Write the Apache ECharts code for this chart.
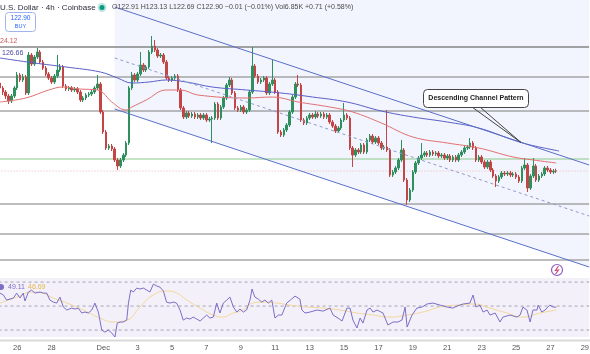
<!DOCTYPE html>
<html><head><meta charset="utf-8">
<script src="https://cdn.jsdelivr.net/npm/echarts/dist/echarts.min.js"></script>
<style>html,body{margin:0;padding:0;background:#fff;}#c{width:590px;height:354px;}</style>
</head><body><div id="c"></div>
<script>
// OHLC per 4h candle: [open, close, low, high], starting Nov 25 00:00
const candles = [
[131.7,131.2,131.0,132.0],[131.2,130.8,130.5,131.4],[130.8,130.4,130.1,131.0],[130.4,129.9,129.6,130.6],[129.9,130.4,129.7,130.6],[130.4,131.2,130.2,131.4],
[131.2,132.5,131.0,132.8],[132.5,132.0,131.8,132.7],[132.0,132.3,131.8,132.6],[132.3,130.7,130.5,132.5],[130.7,134.5,130.5,134.8],[134.5,133.6,133.4,134.7],
[133.6,134.3,133.4,134.5],[134.3,134.8,134.1,135.2],[134.8,133.8,133.6,135.0],[133.8,133.2,133.0,134.0],[133.2,132.6,132.4,133.4],[132.6,132.2,132.0,132.8],
[132.2,131.8,131.6,132.4],[131.8,132.4,131.6,132.6],[132.4,133.0,132.2,134.5],[133.0,133.3,132.8,133.6],[133.3,131.4,131.2,133.5],[131.4,131.1,130.9,131.6],
[131.1,131.2,130.9,131.4],[131.2,131.0,130.8,131.4],[131.0,131.1,130.8,131.3],[131.1,130.8,130.6,131.3],[130.8,130.0,129.8,131.0],[130.0,130.2,129.8,130.4],
[130.2,130.5,130.0,130.7],[130.5,130.6,130.3,130.8],[130.6,130.8,130.4,131.0],[130.8,131.2,130.6,131.4],[131.2,131.6,131.0,132.5],[131.6,128.8,128.6,131.8],
[128.8,126.8,126.6,129.0],[126.8,125.2,125.0,127.0],[125.2,125.4,125.0,125.6],[125.4,125.1,124.9,125.6],[125.1,124.0,123.8,125.3],[124.0,123.4,123.0,124.2],
[123.4,124.0,123.2,124.2],[124.0,124.5,123.8,124.7],[124.5,125.7,124.3,125.9],[125.7,131.2,125.5,131.4],[131.2,132.5,131.0,132.8],[132.5,132.0,131.8,132.7],
[132.0,132.6,131.8,132.8],[132.6,133.5,132.4,134.8],[133.5,133.0,132.8,133.7],[133.0,133.3,132.8,133.5],[133.3,134.8,133.1,135.0],[134.8,135.4,134.6,136.4],
[135.4,135.0,134.8,136.0],[135.0,134.4,134.2,135.2],[134.4,134.5,134.2,134.7],[134.5,133.8,133.6,134.7],[133.8,132.2,132.0,134.0],[132.2,132.0,131.8,132.4],
[132.0,132.2,131.8,132.4],[132.2,132.4,132.0,132.6],[132.4,131.0,130.8,132.6],[131.0,129.2,129.0,131.2],[129.2,128.3,128.1,129.4],[128.3,128.7,128.1,128.9],
[128.7,128.4,128.2,128.9],[128.4,128.6,128.2,128.8],[128.6,128.3,128.1,128.8],[128.3,128.5,128.1,128.7],[128.5,128.2,128.0,128.7],[128.2,128.5,128.0,128.7],
[128.5,128.0,127.8,128.7],[128.0,128.1,127.8,128.3],[128.1,128.2,125.7,128.4],[128.2,129.6,128.0,129.8],[129.6,128.2,128.0,129.8],[128.2,129.3,128.0,129.5],
[129.3,130.2,129.1,130.4],[130.2,131.5,130.0,131.7],[131.5,132.0,131.3,132.3],[132.0,130.7,130.5,132.2],[130.7,129.2,129.0,130.9],[129.2,129.0,128.8,129.4],
[129.0,129.3,128.8,129.5],[129.3,128.8,128.6,129.5],[128.8,129.0,128.6,129.2],[129.0,130.8,128.8,131.0],[130.8,133.4,130.6,135.3],[133.4,132.4,132.2,133.6],
[132.4,131.8,131.6,132.6],[131.8,132.0,131.6,132.2],[132.0,132.2,131.8,132.4],[132.2,130.7,130.5,132.4],[130.7,131.6,130.5,131.8],[131.6,132.0,131.4,134.0],
[132.0,130.8,130.6,132.2],[130.8,126.8,126.6,131.0],[126.8,126.5,126.3,127.0],[126.5,127.0,126.3,127.2],[127.0,127.5,126.8,127.7],[127.5,128.8,127.3,129.0],
[128.8,130.3,128.6,130.5],[130.3,131.6,130.1,131.8],[131.6,131.5,131.3,132.5],[131.5,128.0,127.8,131.7],[128.0,127.7,127.5,128.2],[127.7,128.2,127.5,128.4],
[128.2,128.5,128.0,128.7],[128.5,128.3,128.1,128.7],[128.3,128.6,128.1,128.9],[128.6,128.4,128.2,128.8],[128.4,128.6,128.2,128.8],[128.6,128.3,128.1,128.8],
[128.3,128.5,128.1,128.7],[128.5,127.8,127.6,128.7],[127.8,127.4,127.2,128.0],[127.4,126.9,126.7,127.6],[126.9,127.2,126.7,127.4],[127.2,128.0,127.0,128.2],
[128.0,128.5,127.8,129.7],[128.5,128.2,128.0,128.7],[128.2,125.2,125.0,128.4],[125.2,124.5,123.3,125.4],[124.5,125.0,124.3,125.2],[125.0,124.8,124.6,125.2],
[124.8,125.5,124.6,125.7],[125.5,124.8,124.6,125.7],[124.8,126.0,124.6,126.2],[126.0,126.4,125.8,126.6],[126.4,125.8,125.6,126.6],[125.8,126.2,125.6,126.4],
[126.2,125.7,125.5,126.4],[125.7,125.2,125.0,125.9],[125.2,125.3,125.0,125.5],[125.3,125.0,124.8,129.0],[125.0,122.5,122.3,125.2],[122.5,122.8,122.3,123.0],
[122.8,123.2,122.6,123.4],[123.2,124.0,123.0,124.2],[124.0,125.0,123.8,126.0],[125.0,122.0,121.8,125.2],[122.0,120.0,119.5,122.2],[120.0,121.0,119.8,121.2],
[121.0,122.8,120.8,123.0],[122.8,123.7,122.6,123.9],[123.7,124.2,123.5,124.4],[124.2,124.5,124.0,125.7],[124.5,124.7,124.3,124.9],[124.7,124.5,124.3,124.9],
[124.5,124.8,124.3,125.0],[124.8,124.6,124.4,125.0],[124.6,124.7,124.4,124.9],[124.7,124.4,124.2,124.9],[124.4,124.5,124.2,124.7],[124.5,124.2,124.0,124.7],
[124.2,124.4,124.0,124.6],[124.4,124.0,123.8,124.6],[124.0,124.3,123.8,124.5],[124.3,124.0,123.8,124.5],[124.0,124.5,123.8,124.7],[124.5,124.8,124.3,125.0],
[124.8,125.2,124.6,125.4],[125.2,125.3,125.0,125.5],[125.3,125.7,125.1,126.2],[125.7,125.2,125.0,125.9],[125.2,124.0,123.8,125.4],[124.0,124.3,123.8,124.5],
[124.3,123.8,123.6,124.5],[123.8,123.3,123.1,124.0],[123.3,123.8,123.1,124.0],[123.8,123.0,122.8,124.0],[123.0,122.4,122.2,123.2],[122.4,121.9,121.3,122.6],
[121.9,122.3,121.7,122.5],[122.3,122.7,122.1,122.9],[122.7,122.6,122.4,122.9],[122.6,122.7,122.4,122.9],[122.7,122.5,122.3,122.9],[122.5,122.6,122.3,122.8],
[122.6,122.3,122.1,122.8],[122.3,121.9,121.7,122.5],[121.9,123.2,121.7,123.4],[123.2,123.5,123.0,124.2],[123.5,121.2,120.8,123.7],[121.2,122.4,121.0,122.6],
[122.4,123.4,122.2,124.2],[123.4,122.0,121.8,123.6],[122.0,122.4,121.8,122.6],[122.4,122.6,122.2,122.8],[122.6,123.2,122.4,123.4],[123.2,123.0,122.8,123.4],
[123.0,122.8,122.6,123.2],[122.8,122.9,122.6,123.1],[122.91,122.90,122.69,123.13]
];
// moving averages (candle index, value)
const maRedIdx = [0,9,17,22,28,34,36,39,44,46,51,58,63,69,86,95,104,115,123,133,144,156,167,179,186,194];
const maRed    = [129.8,130.2,131.0,131.3,131.1,131.0,130.7,129.8,129.0,129.3,130.0,131.0,131.0,130.5,130.2,130.3,129.8,129.3,128.8,127.7,126.3,125.7,125.2,124.3,124.0,123.7];
const maBlueIdx = [0,12,23,35,41,46,52,58,65,74,86,98,109,121,133,144,156,167,179,185,195];
const maBlue    = [134.2,133.7,133.3,132.8,132.2,131.7,131.8,132.0,131.8,131.3,131.0,130.7,130.3,129.8,128.9,128.3,127.8,127.2,126.0,125.5,124.9];
// RSI (candle index, value)
const rsiIdx = [0,1.2,2.3,4.7,5.8,7,8.1,8.7,9.9,11,12.2,14,15.1,16.3,17.4,18.6,19.8,20.9,22.1,23.3,25,26.2,27.3,28.5,29.6,30.8,32,33.1,34.3,35.5,36.6,37.8,39,40.1,40.9,41.9,43,44.2,44.8,45.6,46.5,47.7,48.8,50,51.2,52.3,53.5,54.7,55.8,57,58.1,59.3,60.5,61.6,62.8,63.9,65.1,66.3,67.4,68.6,69.8,70.9,72.1,73.2,74.4,75.6,76.7,77.9,79.1,80.2,81.4,82.6,83.7,84.9,86,87.2,87.9,88.9,90.1,91.3,92.4,93.6,94.8,95.9,97.1,98.3,100,101.7,102.9,104.6,105.3,106.4,108.1,110.6,112.7,115.1,116.2,117.9,119.3,121,122.1,123.1,124.5,125.6,126.6,128,129.1,130.1,131.5,133.6,135.3,137.1,138.8,140.2,141.3,142,143.7,145.4,147.2,148.9,151,153.5,155.9,158,159.4,161.5,163.9,165,166,167.4,168.5,169.9,170.9,172.7,174.4,175.4,177.9,180.3,181.4,182.4,183.8,184.9,185.9,187.3,187.7,189,190.1,191.1,191.8,192.9,194];
const rsiVal = [60.8,59.2,55,56.7,60.8,56.7,60.8,54.2,61.7,63.3,60.8,61.7,60.8,60.8,55,53.3,52.5,57.5,49.2,46.7,48.3,47.5,48.3,44.2,45,44.2,46.7,52.5,45,30,28.3,30,27.5,24.2,35.8,36.7,36.7,38.3,52.5,63.3,61.7,65,64.2,65,63.3,61.7,68.3,66.7,65.8,62.5,53.3,52.5,53.3,52.5,46.7,38.3,40,39.2,40.8,39.2,37.5,40,42.5,40,40.8,52.5,44.2,52.5,55,57.5,49.2,45,47.5,45,46.7,55,64.2,57.5,55.8,53.3,55,52.5,55,40,42.5,42.5,52.5,55.8,58.3,55.8,46.7,44.2,45,46.7,45.8,48.3,42.5,40,37.5,48.3,48.3,38.3,31.7,40,35.8,46.7,48.3,45,46.7,44.2,34.2,36.7,36.7,38.3,49.2,32.5,42.5,48.3,49.2,51.7,52.5,50.8,49.2,48.3,50,51.7,52.5,59.2,49.2,50.8,45,46.7,42.5,44.2,36.7,40.8,42.5,40.8,42.5,49.2,46.7,36.7,46.7,46.7,50.8,45,46.7,49.2,50.8,49.2,49.11];
const rsiMaIdx = [0,5.9,11.5,15,18.5,23.4,29,34.9,39.4,44.3,48.8,53.4,58.2,61.7,65.2,69.8,74.3,77.8,81.3,84.8,88.2,91.7,96.6,101.2,107.1,112.7,118.6,124.5,130.1,136,142,147.5,153.5,159.4,165,170.9,176.8,182.4,188.4,194];
const rsiMaVal = [52.5,57.5,61.7,60.8,56.7,52.5,46.7,40,36.7,38.3,49.2,59.2,62.5,60.8,55,48.3,42.5,40.8,44.2,46.7,52.5,53.3,52.5,50.8,49.2,48.3,46.7,44.2,42.5,40.8,42.5,45,49.2,50.8,51.7,48.3,44.2,40.8,44.2,46.69];
const rsiBands = [70, 50, 30];
// horizontal levels and drawings
const levels = [135.3, 132.3, 128.9, 119.6, 116.6, 114.0];
const greenLevel = 124.1;
const lastPrice = 122.90;
const channelIdx = [40, 205.5];
const channelUpper = [139.3, 123.5];
const channelLower = [129.1, 113.3];
// time axis
const tickDays = ['11-26','11-28','12-1','12-3','12-5','12-7','12-9','12-11','12-13','12-15','12-17','12-19','12-21','12-23','12-25','12-27','12-29'];
const tickLabels = ['26','28','Dec','3','5','7','9','11','13','15','17','19','21','23','25','27','29'];
const headerTitle = 'U.S. Dollar · 4h · Coinbase';
const headerValues = 'O122.91 H123.13 L122.69 C122.90 −0.01 (−0.01%) Vol6.85K +0.71 (+0.58%)';

const N = 206;
const categories = [];
(function(){ const ml={11:30,12:31}; let m=11,d=25,h=0;
  for(let k=0;k<N;k++){ categories.push(m+'-'+d+' '+h); h+=4; if(h===24){h=0;d++; if(d>ml[m]){d=1;m++;}} } })();

const chart = echarts.init(document.getElementById('c'), null, {renderer:'canvas'});
const slot = 2.867;
const gridLeft = -slot/2, gridW = N*slot;
const FONT = '"Liberation Sans", Arial, sans-serif';
const pair = (ix, vals) => ix.map((x,k)=>[x, vals[k]]);
const hline = (v, grid, style, z) => ({type:'line', xAxisIndex: grid===0?1:3, yAxisIndex: grid, data:[[-0.5,v],[205.5,v]], symbol:'none', silent:true, lineStyle: style, z: z||1, animation:false});

const series = [];
series.push({type:'line', xAxisIndex:1, yAxisIndex:0, data: pair(channelIdx, channelLower), symbol:'none', silent:true,
  lineStyle:{width:0}, areaStyle:{origin:'end', color:'rgba(66,110,230,0.10)'}, z:0, animation:false});
levels.forEach((v,k)=> series.push(hline(v,0,{color: k===0?'#858585':'#7d7d7d', width: k===0?1.5:1},1)));
series.push(hline(greenLevel,0,{color:'#8cc98c', width:1},1));
series.push(hline(lastPrice,0,{color:'#e6b3b3', width:1, type:[1,2]},1));
series.push({type:'candlestick', xAxisIndex:0, yAxisIndex:0, data:candles, barWidth:2,
  itemStyle:{color:'#2f8f5f', color0:'#c44545', borderColor:'#2f8f5f', borderColor0:'#c44545', borderWidth:1}, z:3, animation:false});
series.push({type:'line', xAxisIndex:1, yAxisIndex:0, data: pair(maRedIdx, maRed), smooth:0.4, symbol:'none', silent:true, lineStyle:{color:'#e07070', width:1}, z:4, animation:false});
series.push({type:'line', xAxisIndex:1, yAxisIndex:0, data: pair(maBlueIdx, maBlue), smooth:0.4, symbol:'none', silent:true, lineStyle:{color:'#5b5fc7', width:1}, z:4, animation:false});
const mid = channelUpper.map((u,k)=> (u+channelLower[k])/2);
series.push({type:'line', xAxisIndex:1, yAxisIndex:0, data: pair(channelIdx, channelUpper), symbol:'none', silent:true, lineStyle:{color:'#5a6fc8', width:1}, z:5, animation:false});
series.push({type:'line', xAxisIndex:1, yAxisIndex:0, data: pair(channelIdx, channelLower), symbol:'none', silent:true, lineStyle:{color:'#5a6fc8', width:1}, z:5, animation:false});
series.push({type:'line', xAxisIndex:1, yAxisIndex:0, data: pair(channelIdx, mid), symbol:'none', silent:true, lineStyle:{color:'#8d9acb', width:1, type:[3,3]}, z:5, animation:false});
rsiBands.forEach(v=> series.push(hline(v,1,{color:'#a3a3b3', width:1, type:[3,3]},1)));
series.push({type:'line', xAxisIndex:3, yAxisIndex:1, data: pair(rsiMaIdx, rsiMaVal), smooth:0.5, symbol:'none', silent:true, lineStyle:{color:'#f2d79a', width:1}, z:2, animation:false});
series.push({type:'line', xAxisIndex:3, yAxisIndex:1, data: pair(rsiIdx, rsiVal), symbol:'none', silent:true, lineStyle:{color:'#7b6fc6', width:1}, z:3, animation:false});

const option = {
  animation:false,
  backgroundColor:'#ffffff',
  grid:[
    {left:gridLeft, width:gridW, top:0, height:270, outerBoundsMode:'none', containLabel:false},
    {left:gridLeft, width:gridW, top:278, height:59, show:true, backgroundColor:'rgba(126,87,194,0.09)', borderWidth:0, outerBoundsMode:'none', containLabel:false}
  ],
  xAxis:[
    {type:'category', gridIndex:0, data:categories, boundaryGap:true, show:false},
    {type:'value', gridIndex:0, min:-0.5, max:205.5, show:false},
    {type:'category', gridIndex:1, data:categories, boundaryGap:true,
      axisLine:{show:false}, axisTick:{show:false}, splitLine:{show:false},
      axisLabel:{show:true, margin:7, fontSize:7.5, color:'#555', fontFamily:FONT, hideOverlap:false,
        interval:(i,val)=>{const p=val.split(' '); return p[1]==='0' && tickDays.indexOf(p[0])>=0;},
        formatter:(val)=>{const i=tickDays.indexOf(val.split(' ')[0]); return i>=0?tickLabels[i]:'';}}},
    {type:'value', gridIndex:1, min:-0.5, max:205.5, show:false}
  ],
  yAxis:[
    {type:'value', gridIndex:0, min:113, max:140, show:false},
    {type:'value', gridIndex:1, min:24.2, max:73.4, show:false}
  ],
  series: series,
  graphic:[
    {type:'line', shape:{x1:0,y1:340.5,x2:590,y2:340.5}, style:{stroke:'#d9d9d9', lineWidth:2}, z:10},
    {type:'text', x:0, y:7.5, style:{text:headerTitle, font:'8px '+FONT, fill:'#2a2e39', verticalAlign:'middle'}, z:20},
    {type:'circle', shape:{cx:102, cy:7.5, r:4.5}, style:{fill:'rgba(8,153,129,0.25)'}, z:20},
    {type:'circle', shape:{cx:102, cy:7.5, r:2.5}, style:{fill:'#089981'}, z:21},
    {type:'text', x:112, y:7.5, style:{text:headerValues, font:'7px '+FONT, fill:'#4a4a4a', verticalAlign:'middle'}, z:20},
    {type:'rect', shape:{x:5.5,y:12.5,width:30,height:19,r:3}, style:{fill:'#fff', stroke:'#9fb3ee', lineWidth:1}, z:20},
    {type:'text', x:20.5, y:18.5, style:{text:'122.90', font:'6.5px '+FONT, fill:'#2962ff', align:'center', verticalAlign:'middle'}, z:21},
    {type:'text', x:20.5, y:26, style:{text:'BUY', font:'5.5px '+FONT, fill:'#2962ff', align:'center', verticalAlign:'middle'}, z:21},
    {type:'text', x:0, y:41.5, style:{text:'24.12', font:'7px '+FONT, fill:'#d05a5a', verticalAlign:'middle'}, z:20},
    {type:'text', x:2, y:53.5, style:{text:'126.66', font:'7px '+FONT, fill:'#4a4aa8', verticalAlign:'middle', backgroundColor:'rgba(255,255,255,0.7)'}, z:20},
    {type:'polygon', shape:{points:[[472,107],[521,142.5],[480,107]]}, style:{fill:'none', stroke:'#444', lineWidth:1}, z:20},
    {type:'rect', shape:{x:423.5,y:89.5,width:105,height:18,r:4}, style:{fill:'#fff', stroke:'#444', lineWidth:1}, z:21},
    {type:'text', x:476, y:98.5, style:{text:'Descending Channel Pattern', font:'bold 7px '+FONT, fill:'#222', align:'center', verticalAlign:'middle'}, z:22},
    {type:'circle', shape:{cx:557, cy:270, r:5.5}, style:{fill:'#fff', stroke:'#8e5bc9', lineWidth:1.2}, z:20},
    {type:'polyline', shape:{points:[[558.5,266],[555.5,270.5],[558.5,270],[555.5,274]]}, style:{stroke:'#d04a7a', lineWidth:1.2, fill:'none'}, z:21},
    {type:'circle', shape:{cx:1, cy:287, r:3}, style:{fill:'#7b6fc6'}, z:20},
    {type:'text', x:8, y:287, style:{text:'49.11', font:'7px '+FONT, fill:'#7b6fc6', verticalAlign:'middle'}, z:20},
    {type:'text', x:28, y:287, style:{text:'46.69', font:'7px '+FONT, fill:'#e3b94a', verticalAlign:'middle'}, z:20}
  ]
};
chart.setOption(option);
</script>
</body></html>
